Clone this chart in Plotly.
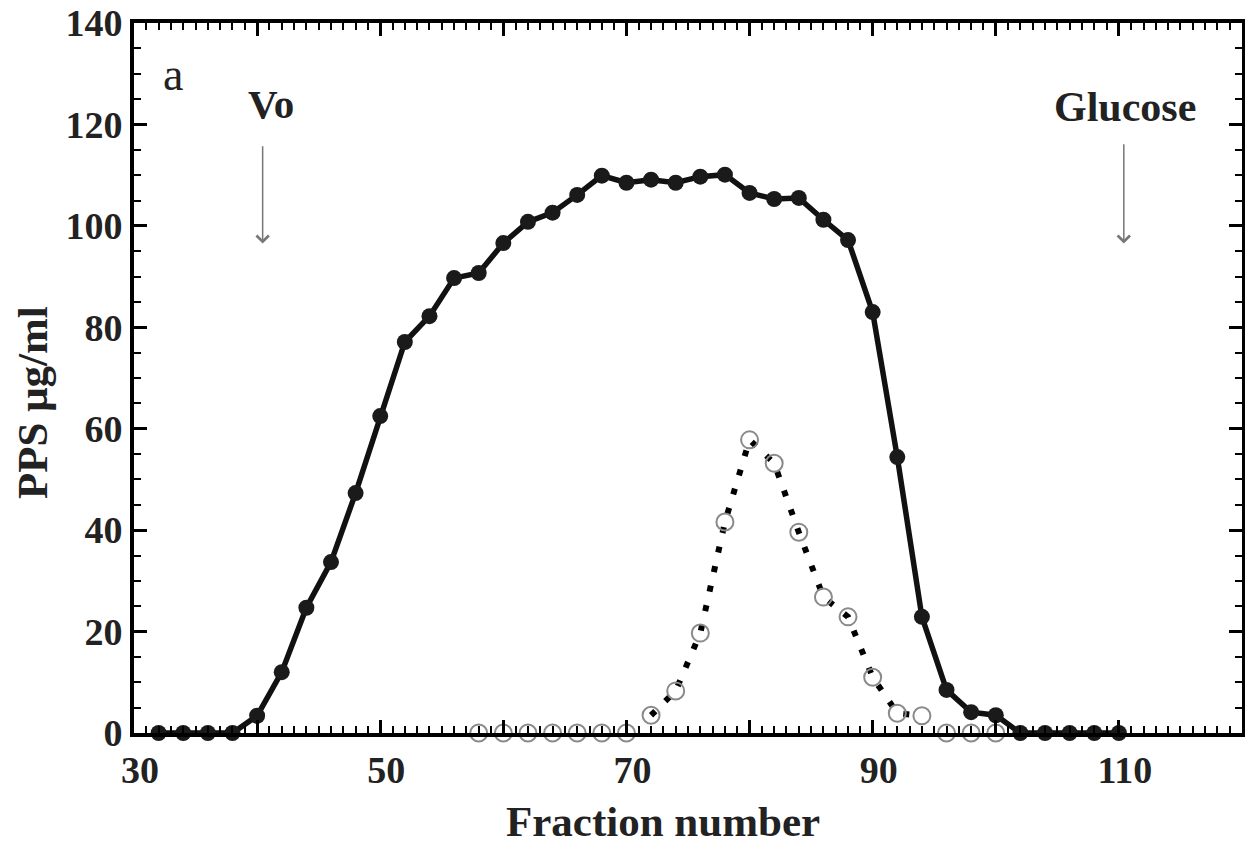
import numpy as np
import plotly.graph_objects as go

# ---- data ----
fraction = list(range(32, 112, 2))  # 32..110
pps_total = [0, 0, 0, 0, 3.4, 12, 24.7, 33.7, 47.3, 62.5,
             77.1, 82.2, 89.7, 90.7, 96.6, 100.8, 102.6, 106.1, 109.9, 108.5,
             109.1, 108.5, 109.7, 110.1, 106.5, 105.3, 105.5, 101.2, 97.2, 83,
             54.4, 22.9, 8.5, 4.1, 3.5, 0, 0, 0, 0, 0]

fraction_b = list(range(58, 102, 2))  # 58..100
pps_b = [0, 0, 0, 0, 0, 0, 0, 3.5, 8.3, 19.7,
         41.6, 57.8, 53.2, 39.6, 26.8, 22.9, 11, 3.9, 3.4, 0,
         0, 0]

x_ticks = [30, 40, 50, 60, 70, 80, 90, 100, 110, 120]
x_ticktext = ["30", "", "50", "", "70", "", "90", "", "110", ""]
y_ticks = [0, 20, 40, 60, 80, 100, 120, 140]

x_title = "Fraction number"
y_title = "PPS μg/ml"

FONT = "Liberation Serif"

fig = go.Figure()

# dotted line through non-zero part of series b
fb = np.array(fraction_b)
pb = np.array(pps_b)
mask = pb > 0
fig.add_trace(go.Scatter(
    x=fb[mask], y=pb[mask], mode="lines",
    line=dict(color="black", width=6, dash="6px,14px"),
    cliponaxis=False, showlegend=False, hoverinfo="skip"))

# open circles
fig.add_trace(go.Scatter(
    x=fraction_b, y=pps_b, mode="markers",
    marker=dict(symbol="circle-open", size=17, color="#8a8a8a", line=dict(width=2, color="#8a8a8a")),
    cliponaxis=False, showlegend=False))

# solid series
fig.add_trace(go.Scatter(
    x=fraction, y=pps_total, mode="lines+markers",
    line=dict(color="#111111", width=5.5),
    marker=dict(symbol="circle", size=16, color="#1a1a1a"),
    cliponaxis=False, showlegend=False))

axis_common = dict(
    showline=True, linewidth=4, linecolor="black", mirror="ticks",
    ticks="inside", tickcolor="black", tickwidth=3, ticklen=13,
    showgrid=False, zeroline=False, automargin=False, ticklabeloverflow="allow",
    tickfont=dict(family=FONT, size=38, color="#222", weight="bold"),
)

fig.update_xaxes(
    range=[30, 120], tickmode="array", tickvals=x_ticks, ticktext=x_ticktext,
    ticklabelshift=6,
    minor=dict(dtick=1, ticks="inside", ticklen=7, tickwidth=2, tickcolor="black"),
    **axis_common)
fig.update_yaxes(
    range=[0, 140], tickmode="array", tickvals=y_ticks,
    minor=dict(dtick=5, ticks="inside", ticklen=7, tickwidth=2, tickcolor="black"),
    **axis_common)

fig.update_layout(
    width=1245, height=839,
    margin=dict(l=126, r=11, t=15, b=114),
    paper_bgcolor="white", plot_bgcolor="white",
    font=dict(family=FONT, color="#222"),
    annotations=[
        dict(x=0.477, y=-0.124, xref="paper", yref="paper", text="<b>" + x_title + "</b>",
             showarrow=False, xanchor="center", yanchor="middle",
             font=dict(family=FONT, size=43, color="#222")),
        dict(x=-0.091, y=0.465, xref="paper", yref="paper", text="<b>" + y_title + "</b>",
             showarrow=False, textangle=-90, xanchor="center", yanchor="middle",
             font=dict(family=FONT, size=43, color="#222")),
        dict(x=33.2, y=129.8, xref="x", yref="y", text="a", showarrow=False,
             font=dict(family=FONT, size=46, color="#222")),
        dict(x=41.1, y=124, xref="x", yref="y", text="<b>Vo</b>", showarrow=False,
             font=dict(family=FONT, size=41, color="#222")),
        dict(x=110.5, y=123.4, xref="x", yref="y", text="<b>Glucose</b>", showarrow=False,
             font=dict(family=FONT, size=42, color="#222")),
        dict(x=40.45, y=96.5, ax=40.45, ay=116, xref="x", yref="y", axref="x", ayref="y",
             text="", showarrow=True, arrowhead=4, arrowsize=1.6, arrowwidth=1.5, arrowcolor="#777"),
        dict(x=110.4, y=96.5, ax=110.4, ay=116.4, xref="x", yref="y", axref="x", ayref="y",
             text="", showarrow=True, arrowhead=4, arrowsize=1.6, arrowwidth=1.5, arrowcolor="#777"),
    ],
)

fig.write_html("out.html")
